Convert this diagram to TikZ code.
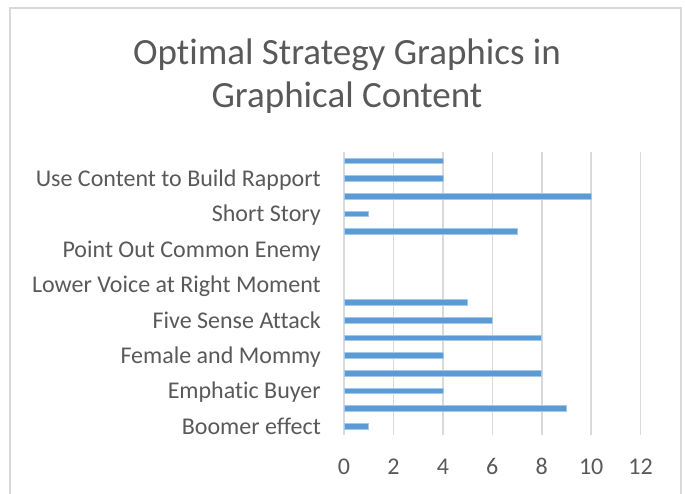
\documentclass[tikz,border=0pt]{standalone}
\usepackage{fontspec}
\setmainfont{Carlito}[Ligatures=NoCommon]
\definecolor{txtgray}{HTML}{595959}
\definecolor{gridgray}{HTML}{D9D9D9}
\definecolor{barblue}{HTML}{5B9BD5}
\begin{document}
\begin{tikzpicture}
[x=1pt, y=-1pt, nodes={text=txtgray, inner sep=0pt},
 catlabel/.style={anchor=base east, font=\fontsize{24}{28}\selectfont},
 axnum/.style={anchor=base, font=\fontsize{24}{28}\selectfont},
 gridline/.style={draw=gridgray, line width=1.5pt},
 barbox/.style={fill=barblue, draw=barblue!55, line width=.6pt}]
\useasboundingbox (0,0) rectangle (685,493);
\draw [gridline] (10,8) rectangle (681,520);

\node (title) at (347,76) [align=center, font=\fontsize{37}{43}\selectfont]
  {Optimal Strategy Graphics in\\Graphical Content};

\begin{scope}[shift={(344,152)}, x=24.72pt, y=-17.6875pt]
\draw [gridline] (0,0) -- (0,16);
\draw [gridline] (2,0) -- (2,16);
\draw [gridline] (4,0) -- (4,16);
\draw [gridline] (6,0) -- (6,16);
\draw [gridline] (8,0) -- (8,16);
\draw [gridline] (10,0) -- (10,16);
\draw [gridline] (12,0) -- (12,16);

\path [barbox] (0,0.34) rectangle (4,0.66);
\path [barbox] (0,1.34) rectangle (4,1.66);
\path [barbox] (0,2.34) rectangle (10,2.66);
\path [barbox] (0,3.34) rectangle (1,3.66);
\path [barbox] (0,4.34) rectangle (7,4.66);
\path [barbox] (0,8.34) rectangle (5,8.66);
\path [barbox] (0,9.34) rectangle (6,9.66);
\path [barbox] (0,10.34) rectangle (8,10.66);
\path [barbox] (0,11.34) rectangle (4,11.66);
\path [barbox] (0,12.34) rectangle (8,12.66);
\path [barbox] (0,13.34) rectangle (4,13.66);
\path [barbox] (0,14.34) rectangle (9,14.66);
\path [barbox] (0,15.34) rectangle (1,15.66);

\node (n0) at (0,18.25) [axnum] {0};
\node (n2) at (2,18.25) [axnum] {2};
\node (n4) at (4,18.25) [axnum] {4};
\node (n6) at (6,18.25) [axnum] {6};
\node (n8) at (8,18.25) [axnum] {8};
\node (n10) at (10,18.25) [axnum] {10};
\node (n12) at (12,18.25) [axnum] {12};
\end{scope}

\node (rapport) at (321,186.5) [catlabel] {Use Content to Build Rapport};
\node (story) at (321,221.9) [catlabel] {Short Story};
\node (enemy) at (321,257.3) [catlabel] {Point Out Common Enemy};
\node (voice) at (321,292.6) [catlabel] {Lower Voice at Right Moment};
\node (sense) at (321,328) [catlabel] {Five Sense Attack};
\node (mommy) at (321,363.4) [catlabel] {Female and Mommy};
\node (buyer) at (321,398.8) [catlabel] {Emphatic Buyer};
\node (boomer) at (321,434.1) [catlabel] {Boomer effect};
\end{tikzpicture}
\end{document}
